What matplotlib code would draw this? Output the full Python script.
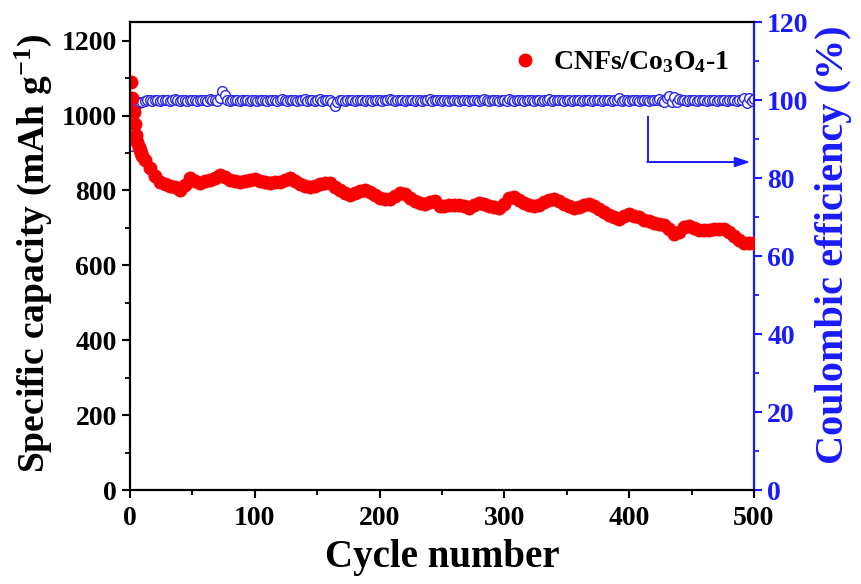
import numpy as np
import matplotlib
matplotlib.use("Agg")
import matplotlib.pyplot as plt
from matplotlib.lines import Line2D

plt.rcParams['font.family'] = ['Liberation Serif', 'DejaVu Serif']
plt.rcParams['font.weight'] = 'bold'
plt.rcParams['mathtext.fontset'] = 'custom'
plt.rcParams['mathtext.rm'] = 'Liberation Serif:bold'
plt.rcParams['mathtext.bf'] = 'Liberation Serif:bold'
plt.rcParams['mathtext.it'] = 'Liberation Serif:bold:italic'

# ---------------- data ----------------
cap_cycles = list(range(1, 11)) + list(range(12, 501, 4))
capacity = [1089, 1047, 1010, 977, 948, 930, 917, 908, 900, 893,
            882, 860, 840, 823, 816, 812, 808, 800, 815, 832,
            826, 821, 826, 828, 834, 841, 836, 828, 824, 823,
            826, 829, 830, 826, 823, 821, 822, 823, 828, 833,
            826, 816, 812, 810, 812, 816, 821, 820, 810, 800,
            793, 788, 792, 798, 801, 796, 788, 780, 776, 776,
            786, 793, 790, 780, 771, 766, 764, 770, 773, 758,
            759, 761, 761, 761, 758, 753, 760, 767, 764, 758,
            755, 753, 763, 780, 782, 775, 766, 762, 758, 760,
            768, 775, 777, 771, 763, 758, 754, 755, 762, 764,
            758, 750, 742, 735, 728, 724, 732, 737, 733, 730,
            722, 718, 714, 711, 707, 697, 683, 690, 702, 704,
            699, 695, 694, 695, 696, 697, 696, 688, 678, 668,
            661, 659, 659]

ce_cycles = list(range(1, 9)) + list(range(10, 501, 2))
ce = [88.3, 95.8, 97.6, 98.4, 98.9, 99.1, 99.3, 99.5,
      99.6, 99.8, 99.9, 100.0, 99.8, 100.1, 99.9, 99.7, 100.0, 99.9,
      100.1, 99.8, 99.9, 100.2, 99.9, 99.7, 100.0, 100.1, 99.8, 99.9,
      100.0, 99.9, 99.7, 100.1, 99.9, 100.0, 99.8, 100.2, 99.9, 100.0,
      99.8, 100.6, 102.3, 101.2, 100.0, 99.8, 99.9, 100.1, 99.9, 99.8,
      100.0, 99.9, 100.1, 99.8, 99.9, 100.0, 99.7, 99.9, 100.1, 99.9,
      99.8, 100.0, 99.9, 100.1, 99.8, 99.9, 100.2, 99.9, 99.8, 100.0,
      99.9, 100.1, 99.8, 100.0, 99.9, 100.3, 99.8, 99.9, 100.0, 99.8,
      99.9, 100.2, 99.8, 99.9, 100.0, 99.9, 99.5, 98.4, 99.6, 99.9,
      100.0, 99.8, 99.9, 100.1, 99.9, 99.8, 100.0, 99.9, 100.1, 99.8,
      99.9, 100.0, 99.8, 99.9, 100.1, 99.9, 99.8, 100.0, 99.9, 100.2,
      99.9, 99.8, 100.0, 99.9, 100.1, 99.8, 99.9, 100.0, 99.9, 99.8,
      100.1, 99.9, 99.8, 100.0, 99.9, 100.2, 99.8, 99.9, 100.0, 99.9,
      99.8, 100.1, 99.9, 99.8, 100.0, 99.9, 100.1, 99.8, 99.9, 100.0,
      99.9, 99.8, 100.1, 99.9, 100.0, 99.8, 99.9, 100.2, 99.9, 99.8,
      100.0, 99.9, 100.1, 99.8, 99.9, 100.0, 99.7, 100.3, 99.9, 99.8,
      100.0, 99.9, 100.1, 99.8, 99.9, 100.0, 99.9, 99.8, 100.1, 99.9,
      99.8, 100.0, 99.9, 100.2, 99.8, 99.9, 100.0, 99.9, 100.1, 99.8,
      99.9, 100.0, 99.8, 99.9, 100.1, 99.9, 99.8, 100.0, 99.9, 100.1,
      99.8, 99.9, 100.0, 99.9, 99.8, 100.1, 99.9, 100.0, 99.8, 99.9,
      100.1, 100.4, 99.7, 99.9, 100.0, 99.8, 99.9, 100.1, 99.9, 99.8,
      100.0, 99.9, 100.1, 99.8, 99.9, 100.0, 99.9, 100.2, 99.8, 99.6,
      100.6, 101.0, 99.4, 100.8, 99.5, 100.3, 99.9, 100.0, 99.8, 99.9,
      100.1, 99.9, 99.8, 100.0, 99.9, 100.1, 99.8, 99.9, 100.0, 99.9,
      99.8, 100.1, 99.9, 100.0, 99.8, 99.9, 100.1, 99.9, 99.8, 100.0,
      99.9, 100.6, 99.3, 100.4, 99.7, 100.2]

x_ticks = [0, 100, 200, 300, 400, 500]
cap_ticks = [0, 200, 400, 600, 800, 1000, 1200]
ce_ticks = [0, 20, 40, 60, 80, 100, 120]
legend_label = 'CNFs/Co$_3$O$_4$-1'

RED = '#f80000'
BLUE = '#1a1aff'

# ---------------- figure ----------------
fig = plt.figure(figsize=(8.61, 5.84), dpi=100)
ax = fig.add_axes([130/861, 94/584, 624/861, 468/584])
ax2 = ax.twinx()

ax2.plot(ce_cycles, ce, linestyle='none', marker='o', markersize=7.0,
         markerfacecolor='white', markeredgecolor='#2a2ae6', markeredgewidth=1.0)
ax.plot(cap_cycles, capacity, linestyle='none', marker='o', markersize=9.5,
        markerfacecolor=RED, markeredgecolor=RED, markeredgewidth=0.5)

ax.set_zorder(ax2.get_zorder() + 1)
ax.patch.set_visible(False)

ax.set_xlim(0, 500)
ax.set_ylim(0, 1250)
ax2.set_ylim(0, 120)

ax.set_xticks(x_ticks)
ax.set_xticks(np.arange(50, 500, 100), minor=True)
ax.set_yticks(cap_ticks)
ax.set_yticks(np.arange(100, 1250, 200), minor=True)
ax2.set_yticks(ce_ticks)
ax2.set_yticks(np.arange(10, 120, 20), minor=True)

for a in (ax, ax2):
    for s in a.spines.values():
        s.set_linewidth(1.6)
ax.spines['right'].set_visible(False)
for k in ('left', 'top', 'bottom'):
    ax2.spines[k].set_visible(False)
ax2.spines['right'].set_color(BLUE)

ax.tick_params(axis='both', which='major', direction='out', length=5.5, width=1.5,
               labelsize=20, pad=4)
ax.tick_params(axis='both', which='minor', direction='out', length=3.5, width=1.3)
ax.tick_params(axis='x', pad=6)
ax2.tick_params(axis='y', which='major', direction='out', length=5.5, width=1.5,
                labelsize=20, colors=BLUE, pad=4)
ax2.tick_params(axis='y', which='minor', direction='out', length=3.5, width=1.3,
                colors=BLUE)
for lab in ax.get_xticklabels() + ax.get_yticklabels() + ax2.get_yticklabels():
    lab.set_fontweight('bold')

ax.set_xlabel('Cycle number', fontsize=28, fontweight='bold')
ax.set_ylabel('Specific capacity (mAh g$^{-1}$)', fontsize=27, fontweight='bold')
ax2.set_ylabel('Coulombic efficiency (%)', fontsize=29, fontweight='bold', color=BLUE,
               rotation=90)
ax.xaxis.set_label_coords(0.5, -0.105)
ax.yaxis.set_label_coords(-0.122, 0.506)
ax2.yaxis.set_label_coords(1.098, 0.524)

handle = Line2D([], [], linestyle='none', marker='o', markersize=9,
                markerfacecolor=RED, markeredgecolor=RED)
ax.legend([handle], [legend_label], loc='upper right', bbox_to_anchor=(1.0, 0.995),
          frameon=False, prop={'family': 'Liberation Serif', 'weight': 'bold', 'size': 20},
          handletextpad=0.5, handlelength=1.0)

# arrow pointing to the right axis
ax.plot([415, 415], [996, 876], color=BLUE, linewidth=1.4)
ax.annotate('', xy=(497, 876), xytext=(414.5, 876),
            arrowprops=dict(arrowstyle='-|>,head_length=0.9,head_width=0.3',
                            color=BLUE, linewidth=1.4, shrinkA=0, shrinkB=0))

fig.savefig('out.png', dpi=100)
